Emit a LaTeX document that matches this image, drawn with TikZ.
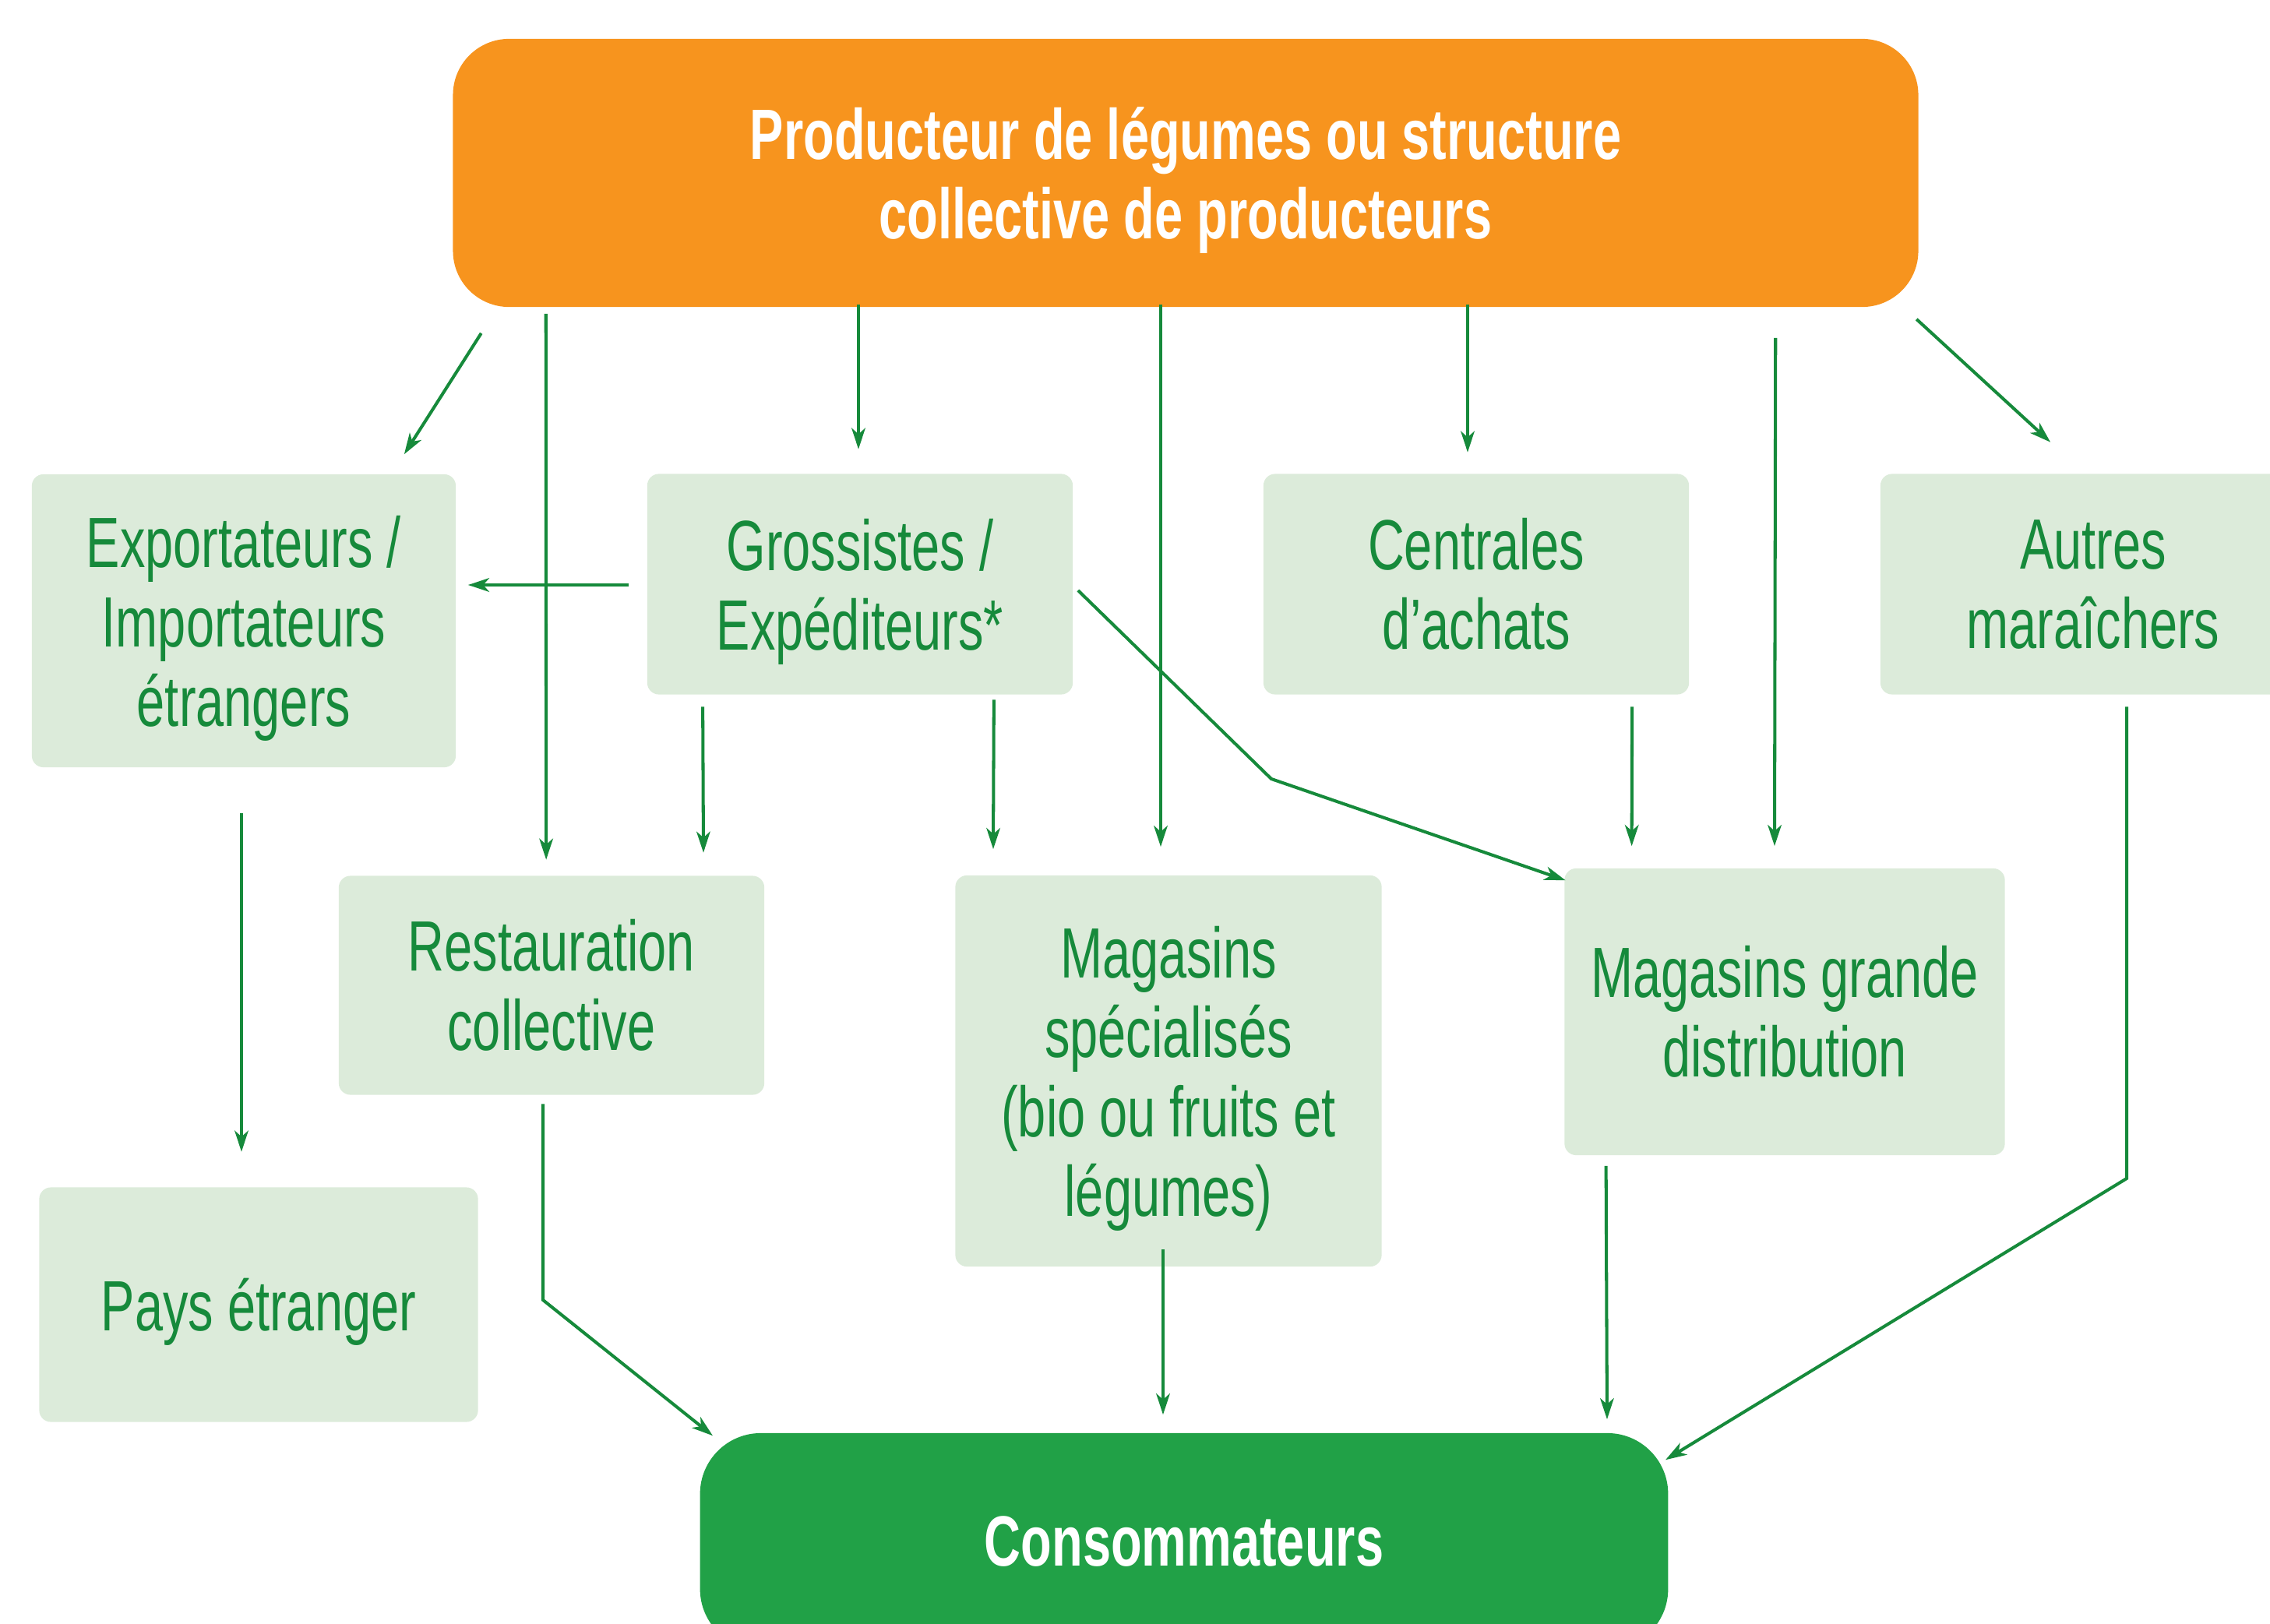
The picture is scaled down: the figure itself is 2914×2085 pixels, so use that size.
\documentclass[tikz,border=0pt]{standalone}
\usepackage{fontspec}
\setmainfont{Liberation Sans}[FakeStretch=0.71]
\usetikzlibrary{arrows.meta,calc}
\definecolor{orangeP}{HTML}{F7941E}
\definecolor{boxfill}{HTML}{DCEBDA}
\definecolor{dgreen}{HTML}{168A3B}
\definecolor{consofill}{HTML}{21A147}
\newcommand{\nodepth}[1]{\raisebox{0pt}[\height][0pt]{#1}}
\begin{document}
\begin{tikzpicture}[x=0.01cm,y=-0.01cm,
  box/.style={fill=boxfill, rounded corners=0.15cm, text=dgreen, align=center, inner sep=0pt,
    font=\fontsize{26}{29}\selectfont},
  bigbox/.style={rounded corners=0.72cm, text=white, align=center, inner sep=0pt,
    font=\fontsize{26}{29}\selectfont\bfseries},
  arr/.style={draw=dgreen, line width=1.15pt, -{Stealth[length=7.7pt,width=5pt,inset=2.2pt]}}]
\useasboundingbox (0,0) rectangle (2914,2085);

\node[bigbox, fill=orangeP, minimum width=18.8cm, minimum height=3.44cm] (prod) at (1522,222)
  {Producteur de légumes ou structure\\\nodepth{collective de producteurs}};

\node[box, minimum width=5.44cm, minimum height=3.76cm] (exp) at (313,797)
  {Exportateurs /\\Importateurs\\\nodepth{étrangers}};
\node[box, minimum width=5.46cm, minimum height=2.83cm] (gros) at (1104,750)
  {Grossistes /\\\nodepth{Expéditeurs*}};
\node[box, minimum width=5.46cm, minimum height=2.83cm] (cent) at (1895,750)
  {Centrales\\d’achats};
\node[box, minimum width=5.46cm, minimum height=2.83cm] (autres) at (2687,750)
  {Autres\\maraîchers};
\node[box, minimum width=5.46cm, minimum height=2.81cm] (rest) at (708,1265)
  {Restauration\\collective};
\node[box, minimum width=5.47cm, minimum height=5.02cm] (spe) at (1500,1375)
  {Magasins\\spécialisés\\(bio ou fruits et\\\nodepth{légumes)}};
\node[box, minimum width=5.65cm, minimum height=3.68cm] (grande) at (2291,1299)
  {Magasins grande\\distribution};
\node[box, minimum width=5.63cm, minimum height=3.01cm, text height=19pt, text depth=0pt] (pays) at (332,1675)
  {Pays étranger};

\node[bigbox, fill=consofill, rounded corners=0.78cm, minimum width=12.42cm, minimum height=2.78cm] (conso) at (1520,1979)
  {Consommateurs};

\coordinate (b11) at (1632,1000);
\coordinate (b14) at (697,1669);
\coordinate (b17) at (2730,1513);

\draw[arr] ($(prod.south west)+(37,33)$) -- ($(exp.north east)+(-67,-25)$);
\draw[arr] ($(prod.south west)+(120,8)$) -- ($(rest.north west)+(267,-20)$);
\draw[arr] ($(prod.south)+(-420,-4)$) -- ($(gros.north)+(-2,-31)$);
\draw[arr] ($(prod.south)+(-32,-4)$) -- ($(spe.north)+(-10,-36)$);
\draw[arr] ($(prod.south)+(362,-4)$) -- ($(cent.north)+(-11,-27)$);
\draw[arr] ($(prod.south east)+(-184,39)$) -- ($(grande.north)+(-13,-28)$);
\draw[arr] ($(prod.south east)+(-3,15)$) -- ($(autres.north west)+(219,-40)$);

\draw[arr] ($(gros.west)+(-23,1)$) -- ($(exp.east)+(15,-46)$);
\draw[arr] ($(gros.south west)+(72,15)$) -- ($(rest.north)+(195,-29)$);
\draw[arr] ($(gros.south east)+(-102,6)$) -- ($(spe.north)+(-225,-33)$);
\draw[arr] ($(gros.east)+(6,8)$) -- (b11) -- ($(grande.north west)+(2,16)$);
\draw[arr] ($(cent.south west)+(474,15)$) -- ($(grande.north west)+(87,-28)$);

\draw[arr] ($(exp.south)+(-3,58)$) -- ($(pays.north)+(-22,-45)$);
\draw[arr] ($(rest.south)+(-11,11)$) -- (b14) -- ($(conso.north west)+(17,4)$);
\draw[arr] ($(spe.south)+(-7,-23)$) -- ($(conso.north)+(-27,-23)$);
\draw[arr] ($(grande.south west)+(54,13)$) -- ($(conso.north)+(543,-17)$);
\draw[arr] ($(autres.south)+(43,15)$) -- (b17) -- ($(conso.north east)+(-4,35)$);
\end{tikzpicture}
\end{document}
